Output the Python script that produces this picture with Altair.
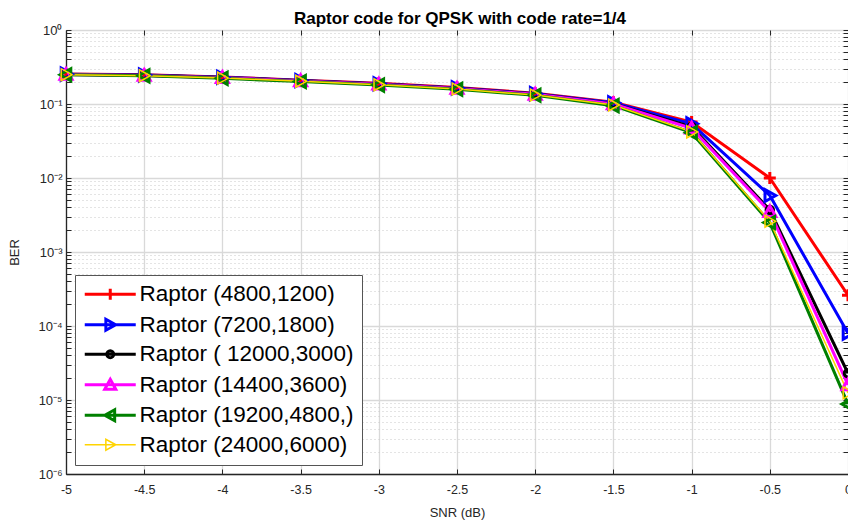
import math
import altair as alt
import pandas as pd

# ---------------- data ----------------
snr_db = [-5, -4.5, -4, -3.5, -3, -2.5, -2, -1.5, -1, -0.5, 0]

series_names = [
    "Raptor (4800,1200)",
    "Raptor (7200,1800)",
    "Raptor ( 12000,3000)",
    "Raptor (14400,3600)",
    "Raptor (19200,4800,)",
    "Raptor (24000,6000)",
]
marker_keys = ["plus", "tri-right", "circle", "tri-up", "tri-left", "tri-right-thin"]

ber_4800 = [0.255, 0.248, 0.232, 0.210, 0.190, 0.167, 0.140, 0.106, 0.057, 0.0100, 2.6e-4]
ber_7200 = [0.253, 0.246, 0.230, 0.208, 0.188, 0.165, 0.138, 0.104, 0.054, 0.0058, 8.0e-5]
ber_12000 = [0.251, 0.244, 0.228, 0.206, 0.186, 0.163, 0.136, 0.101, 0.049, 0.0037, 2.3e-5]
ber_14400 = [0.250, 0.243, 0.227, 0.205, 0.185, 0.162, 0.135, 0.100, 0.047, 0.0035, 1.6e-5]
ber_19200 = [0.248, 0.240, 0.222, 0.201, 0.180, 0.158, 0.131, 0.095, 0.041, 0.0025, 8.8e-6]
ber_24000 = [0.249, 0.241, 0.224, 0.203, 0.182, 0.159, 0.132, 0.097, 0.042, 0.0026, 1.25e-5]
all_ber = [ber_4800, ber_7200, ber_12000, ber_14400, ber_19200, ber_24000]

series_colors = ["#ff0000", "#0000ff", "#000000", "#ff00ff", "#008000", "#ffd400"]

x_tick_values = [-5, -4.5, -4, -3.5, -3, -2.5, -2, -1.5, -1, -0.5, 0]
y_decades = [1e-6, 1e-5, 1e-4, 1e-3, 1e-2, 1e-1, 1.0]

rows = []
for name, mk, vals in zip(series_names, marker_keys, all_ber):
    for x, v in zip(snr_db, vals):
        rows.append({"snr": x, "ber": v, "series": name, "marker": mk})
df = pd.DataFrame(rows)

# ---------------- style helpers ----------------
F = "Liberation Sans"
W, H = 782, 444
AXC = "#262626"

y_minor = [m * d for d in y_decades[:-1] for m in range(2, 10)]
y_tick_values = y_decades + y_minor

is_decade = "abs(log(datum.value)/LN10 - round(log(datum.value)/LN10)) < 0.001"
sup = "['\u2070','\u00b9','\u00b2','\u00b3','\u2074','\u2075','\u2076']"
y_label_expr = (
    f"({is_decade}) ? '10' + (round(log(datum.value)/LN10) < 0 ? '\u207b' : '') + "
    f"{sup}[abs(round(log(datum.value)/LN10))] : ''"
)


def circle_pts(r, n=16):
    return [(r * math.cos(2 * math.pi * k / n), r * math.sin(2 * math.pi * k / n)) for k in range(n)]


# marker geometry in unit space (+-1 = half marker size): list of (points, closed)
marker_geo = [
    [([(-1, 0), (1, 0)], False), ([(0, -1), (0, 1)], False)],      # plus
    [([(1, 0), (-0.8, -1), (-0.8, 1)], True)],                      # triangle right
    [(circle_pts(0.62), True)],                                      # circle
    [([(0, -1), (1, 0.8), (-1, 0.8)], True)],                       # triangle up
    [([(-1, 0), (0.8, -1), (0.8, 1)], True)],                       # triangle left
    [([(1, 0), (-0.8, -1), (-0.8, 1)], True)],                      # triangle right
]


def fmt(v):
    return f"{v:.3f}".rstrip("0").rstrip(".")


def to_path(geo, scale=1.0, dx=0.0):
    out = []
    for pts, closed in geo:
        s = "M" + "L".join(f"{fmt(px * scale + dx)},{fmt(py * scale)}" for px, py in pts)
        if closed:
            s += "Z"
        out.append(s)
    return "".join(out)


marker_paths = [to_path(g) for g in marker_geo]

# legend symbols: line sample + marker, in legend symbol units
LEG_SIZE = 484
u = math.sqrt(LEG_SIZE) / 2.0          # px per path unit
c_shift = 16.0                          # px, marker offset from symbol centre
half_len = 25.5                         # px, half length of the line sample
m_half = 5.5                            # px, half marker size
legend_paths = []
for g in marker_geo:
    line = f"M{fmt((c_shift - half_len) / u)},0L{fmt((c_shift + half_len) / u)},0"
    legend_paths.append(line + to_path(g, scale=m_half / u, dx=c_shift / u))

leg_shape_expr = "[" + ",".join(f"'{p}'" for p in legend_paths) + "][datum.index]"
leg_stroke_expr = "[" + ",".join(f"'{c}'" for c in series_colors) + "][datum.index]"

legend = alt.Legend(
    title=None, orient="none", legendX=9, legendY=245,
    symbolSize=LEG_SIZE, labelFont=F, labelFontSize=22.5, labelColor="black",
    labelLimit=600, labelOffset=34, rowPadding=6.5, padding=8,
    labelExpr="datum.label + '\u00a0\u00a0\u00a0\u00a0\u00a0'",
    strokeColor="#555555", fillColor="white", cornerRadius=0,
    symbolType={"expr": leg_shape_expr},
    symbolStrokeColor={"expr": leg_stroke_expr},
    symbolStrokeWidth={"expr": "datum.index == 5 ? 1.5 : 3"},
    symbolFillColor="transparent", symbolOpacity=1,
)

# ---------------- scales ----------------
xs = alt.Scale(domain=[-5, 0], nice=False, zero=False)
ys = alt.Scale(type="log", domain=[1e-6, 1], nice=False)
color_scale = alt.Scale(domain=series_names, range=series_colors)
shape_scale = alt.Scale(domain=marker_keys, range=marker_paths)
thin = alt.datum.series == "Raptor (24000,6000)"

# ---------------- layers ----------------
lines = alt.Chart(df).mark_line(clip=True).encode(
    x=alt.X(
        "snr:Q", scale=xs,
        axis=alt.Axis(
            orient="bottom", values=x_tick_values, labelExpr="'' + datum.value",
            title="SNR (dB)", grid=True, gridColor="#d9d9d9", gridWidth=1.3,
            ticks=False, tickSize=0, domain=True, domainColor=AXC, domainWidth=1.3,
            labelPadding=9, labelFlush=False, labelOverlap=False, labelFont=F,
            labelFontSize=12.5, labelColor=AXC, titleFont=F, titleFontSize=13,
            titleFontWeight="normal", titleColor=AXC, titlePadding=11,
        ),
    ),
    y=alt.Y(
        "ber:Q", scale=ys,
        axis=alt.Axis(
            orient="left", values=y_tick_values, labelExpr=y_label_expr, title="BER",
            grid=True,
            gridColor={"condition": {"test": is_decade, "value": "#d9d9d9"}, "value": "#c8c8c8"},
            gridDash={"condition": {"test": is_decade, "value": []}, "value": [1, 3]},
            gridWidth={"condition": {"test": is_decade, "value": 1.3}, "value": 1},
            ticks=False, tickSize=0, domain=True, domainColor=AXC, domainWidth=1.3,
            labelPadding=4, labelFlush=False, labelOverlap=False, labelFont=F,
            labelFontSize=13, labelColor=AXC, titleFont=F, titleFontSize=13,
            titleFontWeight="normal", titleColor=AXC, titlePadding=16,
        ),
    ),
    color=alt.Color("series:N", scale=color_scale, legend=legend),
    strokeWidth=alt.condition(thin, alt.value(1.5), alt.value(3)),
)

points = alt.Chart(df).mark_point(filled=False, opacity=1, size=144, clip=False).encode(
    x=alt.X("snr:Q", scale=xs, axis=None),
    y=alt.Y("ber:Q", scale=ys, axis=None),
    stroke=alt.Stroke("series:N", scale=color_scale, legend=None),
    shape=alt.Shape("marker:N", scale=shape_scale, legend=None),
    strokeWidth=alt.condition(thin, alt.value(1.5), alt.value(3)),
)

tick_axis = dict(labels=False, grid=False, domain=False, ticks=True, tickSize=5,
                 tickColor=AXC, tickWidth=1, offset=-5, title=None)

ticks_bl = alt.Chart(df).mark_point(opacity=0).encode(
    x=alt.X("snr:Q", scale=xs, axis=alt.Axis(orient="bottom", values=x_tick_values, **tick_axis)),
    y=alt.Y("ber:Q", scale=ys, axis=alt.Axis(orient="left", values=y_tick_values, **tick_axis)),
)
ticks_tr = alt.Chart(df).mark_point(opacity=0).encode(
    x=alt.X("snr:Q", scale=xs, axis=alt.Axis(orient="top", values=x_tick_values, **tick_axis)),
    y=alt.Y("ber:Q", scale=ys, axis=alt.Axis(orient="right", values=y_tick_values, **tick_axis)),
)

chart = (
    alt.layer(lines, points, ticks_bl, ticks_tr)
    .resolve_axis(x="independent", y="independent")
    .properties(
        width=W, height=H,
        title=alt.TitleParams(
            "Raptor code for QPSK with code rate=1/4", font=F, fontSize=17,
            fontWeight="bold", color="black", anchor="middle", offset=4, dy=8, dx=3,
        ),
        autosize=alt.AutoSizeParams(type="none"),
        padding={"left": 66, "top": 30, "right": 0, "bottom": 48},
        background="white",
    )
    .configure_view(stroke=None)
)

chart.save("out.html", embed_options={"renderer": "svg", "actions": False})
